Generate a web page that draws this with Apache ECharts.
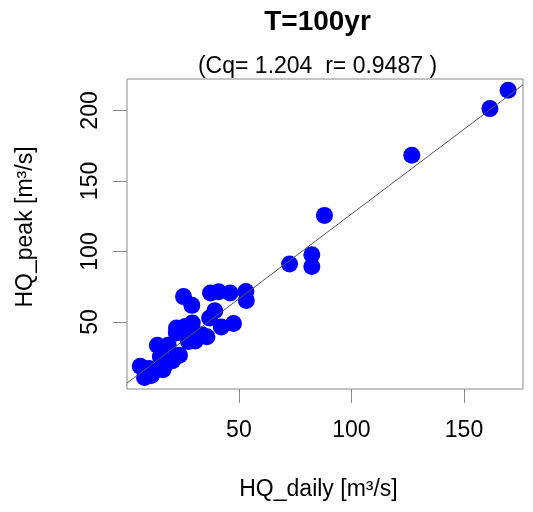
<!DOCTYPE html>
<html>
<head>
<meta charset="utf-8">
<script src="https://cdn.jsdelivr.net/npm/echarts@6/dist/echarts.min.js"></script>
<style>html,body{margin:0;padding:0;background:#fff;}#c{width:533px;height:512px;}</style>
</head>
<body>
<div id="c"></div>
<script>
// HQ_daily vs HQ_peak [m3/s], T=100yr
const hqDaily = [169.6,161.5,126.8,88.0,82.4,82.4,72.5,
  53.1,53.3,46.1,41.0,37.4,25.4,29.1,39.3,37.0,47.6,42.2,29.3,26.2,22.3,22.2,26.9,35.8,33.6,30.6,27.6,
  13.8,18.6,23.6,20.5,15.1,17.3,12.1,6.2,8.1,11.1,16.3,10.0];
const hqPeak = [214.3,201.3,168.2,125.6,97.7,89.4,91.1,
  71.7,65.3,70.6,71.5,70.6,68.0,61.8,58.0,52.8,49.0,46.5,49.3,46.9,45.7,42.2,42.2,39.5,41.0,36.5,36.2,
  33.5,33.5,26.5,22.5,25.6,19.7,15.0,18.7,10.6,12.0,16.2,17.0];
// fitted line end points
const fitX = [0.3, 176.2];
const fitY = [6.7, 218.2];
const xTicks = [50, 100, 150];
const yTicks = [50, 100, 150, 200];
const titleText = 'T=100yr';
const subText = '(Cq= 1.204  r= 0.9487 )';

const pts = hqDaily.map((x, i) => [x, hqPeak[i]]);
const fit = fitX.map((x, i) => [x, fitY[i]]);
const font = 'Liberation Sans, Arial, sans-serif';
const chart = echarts.init(document.getElementById('c'), null, {renderer: 'canvas'});
chart.setOption({
  animation: false,
  backgroundColor: '#fff',
  grid: {left: 127, right: 10, top: 79, bottom: 123, show: true, borderColor: '#888', borderWidth: 1, backgroundColor: 'transparent'},
  graphic: [
    {type: 'text', x: 317.5, y: 22, style: {text: titleText, align: 'center', verticalAlign: 'middle', font: 'bold 28px ' + font, fill: '#000'}},
    {type: 'text', x: 317.5, y: 67, style: {text: subText, align: 'center', verticalAlign: 'middle', font: '23px ' + font, fill: '#000'}}
  ],
  xAxis: {
    type: 'value', min: 0.3, max: 176.2,
    name: 'HQ_daily [m³/s]', nameLocation: 'middle', nameGap: 89,
    nameTextStyle: {fontSize: 23, fontFamily: font, color: '#000', padding: [0, 13, 0, 0]},
    axisLine: {show: false},
    axisTick: {show: true, length: 14, lineStyle: {color: '#888'}, customValues: xTicks},
    axisLabel: {fontSize: 23, fontFamily: font, color: '#000', margin: 30, customValues: xTicks},
    splitLine: {show: false}
  },
  yAxis: {
    type: 'value', min: 2.5, max: 222.3,
    name: 'HQ_peak [m³/s]', nameLocation: 'middle', nameGap: 90,
    nameTextStyle: {fontSize: 23, fontFamily: font, color: '#000', padding: [0, 0, 0, 14]},
    axisLine: {show: false},
    axisTick: {show: true, length: 14, lineStyle: {color: '#888'}, customValues: yTicks},
    axisLabel: {fontSize: 23, fontFamily: font, color: '#000', margin: 25, rotate: 90, customValues: yTicks},
    splitLine: {show: false}
  },
  series: [
    {type: 'scatter', data: pts, symbol: 'circle', symbolSize: 17, itemStyle: {color: '#0000ff', opacity: 1}, z: 2},
    {type: 'line', data: fit, showSymbol: false, symbol: 'none', lineStyle: {color: '#555', width: 1}, z: 3, silent: true}
  ]
});
</script>
</body>
</html>
